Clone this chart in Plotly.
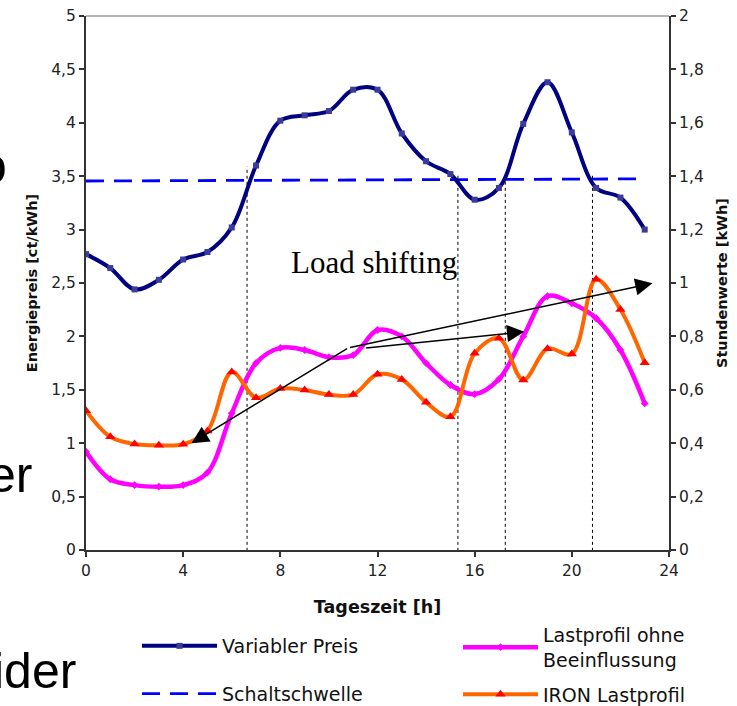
import plotly.graph_objects as go

# ---------------- data ----------------
hours = list(range(24))
price = [2.77, 2.64, 2.44, 2.53, 2.72, 2.79, 3.02, 3.60, 4.02, 4.07, 4.11, 4.31,
         4.31, 3.90, 3.64, 3.52, 3.28, 3.39, 3.99, 4.38, 3.91, 3.39, 3.30, 3.00]
threshold_hours = [0, 23]
threshold = [3.455, 3.475]
load_plain = [0.368, 0.265, 0.243, 0.237, 0.243, 0.290, 0.512, 0.700, 0.757, 0.749,
              0.722, 0.730, 0.824, 0.800, 0.700, 0.618, 0.584, 0.640, 0.800, 0.951,
              0.924, 0.868, 0.749, 0.549]
load_iron = [0.522, 0.424, 0.397, 0.392, 0.396, 0.446, 0.667, 0.570, 0.605, 0.599,
             0.582, 0.582, 0.658, 0.639, 0.553, 0.499, 0.737, 0.793, 0.637, 0.754,
             0.734, 1.014, 0.901, 0.701]

# crossing markers (hour, price level)
cross_hours = [6.63, 15.31, 17.26, 20.85]
cross_levels = [3.59, 3.53, 3.45, 3.52]

# load-shifting arrows: (from hour, from price-axis level) -> (to hour, to level)
arrow_from_h = [10.81, 10.81, 11.47]
arrow_from_v = [1.894, 1.894, 1.889]
arrow_to_h = [4.34, 23.32, 18.04]
arrow_to_v = [1.00, 2.497, 2.044]

x_ticks = [0, 4, 8, 12, 16, 20, 24]

FONT = "DejaVu Sans"
W, H = 737, 706
ML, MR, MT, MB = 86, 68, 16, 156

fig = go.Figure()

fig.add_trace(go.Scatter(
    x=threshold_hours, y=threshold, name="Schaltschwelle", mode="lines",
    line=dict(color="#0000FF", width=2.8, dash="18px,10px"),
    legend="legend", legendgroup="b", legendrank=2))

fig.add_trace(go.Scatter(
    x=hours, y=price, name="Variabler Preis", mode="lines+markers",
    line=dict(color="#000080", width=4, shape="spline", smoothing=1),
    marker=dict(symbol="square", size=6, color="#3b3b9c"),
    legend="legend", legendgroup="a", legendrank=1))

fig.add_trace(go.Scatter(
    x=hours, y=load_plain, name="Lastprofil ohne<br>Beeinflussung", mode="lines+markers",
    yaxis="y2",
    line=dict(color="#FF00FF", width=4.5, shape="spline", smoothing=1),
    marker=dict(symbol="diamond", size=6, color="#FF00FF"),
    legend="legend2", legendgroup="c", legendrank=1))

fig.add_trace(go.Scatter(
    x=hours, y=load_iron, name="IRON Lastprofil", mode="lines+markers",
    yaxis="y2",
    line=dict(color="#FF6600", width=4, shape="spline", smoothing=1),
    marker=dict(symbol="triangle-up", size=9, color="#FF0000"),
    legend="legend2", legendgroup="d", legendrank=2))

shapes = []
for h, v in zip(cross_hours, cross_levels):
    shapes.append(dict(type="line", xref="x", yref="y", x0=h, x1=h, y0=-0.12, y1=v,
                       line=dict(color="black", width=1, dash="dot"), layer="below"))
shapes.append(dict(type="line", xref="paper", yref="paper", x0=0, x1=1, y0=1, y1=1,
                   line=dict(color="#9a9a9a", width=1.5)))

annotations = []
for fh, fv, th, tv in zip(arrow_from_h, arrow_from_v, arrow_to_h, arrow_to_v):
    annotations.append(dict(x=th, y=tv, xref="x", yref="y", ax=fh, ay=fv,
                            axref="x", ayref="y", showarrow=True, arrowhead=2,
                            arrowsize=2.3, arrowwidth=1.5, arrowcolor="black", text=""))
annotations.append(dict(x=11.84, y=2.69, xref="x", yref="y", text="Load shifting",
                        showarrow=False, font=dict(family="Liberation Serif", size=31,
                                                   color="black")))

# background slide text fragments
def px_x(p):
    return (p - ML) / float(W - ML - MR)

def px_y(p):
    return (H - MB - p) / float(H - MT - MB)

for txt, rx, cy in [("o", 9, 166), ("er", 34, 475), ("ider", 78, 671)]:
    annotations.append(dict(x=px_x(rx), y=px_y(cy), xref="paper", yref="paper",
                            xanchor="right", yanchor="middle", text=txt, showarrow=False,
                            font=dict(family="Liberation Sans", size=50, color="black")))

axis_common = dict(showgrid=False, zeroline=False, showline=True, linecolor="#333333",
                   linewidth=2, ticks="outside", ticklen=5, tickwidth=1.5,
                   tickcolor="#333333", tickfont=dict(size=15.5, color="#222222"),
                   automargin=False)

legend_common = dict(orientation="v", xref="paper", yref="paper",
                     xanchor="left", yanchor="top",
                     font=dict(family=FONT, size=19, color="#111111"),
                     itemwidth=75, bgcolor="rgba(0,0,0,0)", valign="middle",
                     traceorder="grouped")

fig.update_layout(
    width=W, height=H,
    margin=dict(l=ML, r=MR, t=MT, b=MB, autoexpand=False),
    paper_bgcolor="white", plot_bgcolor="white",
    separators=",.",
    font=dict(family=FONT, color="#222222", size=15),
    showlegend=True,
    legend=dict(x=px_x(137), y=px_y(627), tracegroupgap=20, **legend_common),
    legend2=dict(x=px_x(458), y=px_y(616), tracegroupgap=7, **legend_common),
    xaxis=dict(range=[0, 24], tickvals=x_ticks,
               title=dict(text="<b>Tageszeit [h]</b>", font=dict(size=17.5, color="#111111"),
                          standoff=22),
               **axis_common),
    yaxis=dict(range=[0, 5], dtick=0.5,
               title=dict(text="<b>Energiepreis [ct/kWh]</b>",
                          font=dict(size=14.5, color="#111111"), standoff=10),
               **axis_common),
    yaxis2=dict(range=[0, 2], dtick=0.2, overlaying="y", side="right",
                title=dict(text="<b>Stundenwerte [kWh]</b>",
                           font=dict(size=14.5, color="#111111"), standoff=14),
                **axis_common),
    yaxis3=dict(range=[0, 2], dtick=0.2, overlaying="y", side="right", showgrid=False,
                zeroline=False, showline=False, ticks="inside", ticklen=5, tickwidth=1.5,
                tickcolor="#333333", showticklabels=False, automargin=False),
    shapes=shapes,
    annotations=annotations,
)

fig.write_html("out.html")
